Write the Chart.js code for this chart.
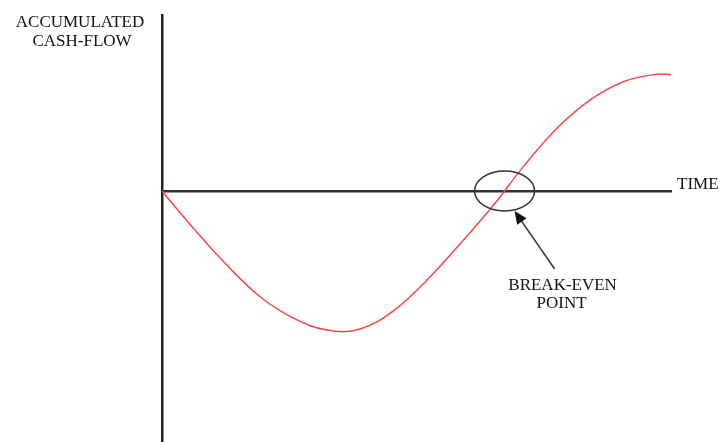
<!DOCTYPE html>
<html>
<head>
<meta charset="utf-8">
<script src="https://cdn.jsdelivr.net/npm/chart.js@4"></script>
<style>
  html, body { margin: 0; padding: 0; background: #fff; }
  #wrap { width: 721px; height: 442px; }
</style>
</head>
<body>
<div id="wrap"><canvas id="cashChart" width="721" height="442"></canvas></div>
<script>
// Accumulated cash-flow over time (arbitrary units)
const timeValues = [0, 0.648, 1.297, 1.945, 2.593, 3.242, 3.89, 4.538, 5.187, 5.835, 6.483, 7.132, 7.78, 8.428, 9.077, 9.725, 10];
const cashFlow = [0, -2.22, -4.28, -6.05, -7.24, -7.9, -7.84, -6.82, -5.11, -3.07, -0.91, 1.5, 3.62, 5.2, 6.22, 6.64, 6.6];
const breakEven = [6.77, 0];
const yAxisLabel = ["ACCUMULATED", "CASH-FLOW"];
const xAxisLabel = "TIME";
const breakEvenLabel = ["BREAK-EVEN", "POINT"];

const serif = '17px "Liberation Serif", "Times New Roman", serif';

// labels, break-even ellipse and arrow
const sketchPlugin = {
  id: "sketch",
  afterDraw(chart) {
    const ctx = chart.ctx;
    const xs = chart.scales.x;
    const ys = chart.scales.y;
    ctx.save();
    ctx.font = serif;
    ctx.fillStyle = "#111";
    ctx.textAlign = "center";
    ctx.textBaseline = "middle";
    ctx.fillText(yAxisLabel[0], 80, 23);
    ctx.fillText(yAxisLabel[1], 82, 42);

    const y0 = ys.getPixelForValue(0);
    ctx.textAlign = "left";
    ctx.fillText(xAxisLabel, xs.right + 6, y0 - 6);

    const cx = xs.getPixelForValue(breakEven[0]) - 2;
    const cy = ys.getPixelForValue(breakEven[1]);
    ctx.strokeStyle = "#333";
    ctx.lineWidth = 1.5;
    ctx.beginPath();
    ctx.ellipse(cx, cy, 30, 20, 0, 0, Math.PI * 2);
    ctx.stroke();

    // arrow
    const tipX = cx + 10, tipY = cy + 20;
    const tailX = cx + 50, tailY = cy + 78;
    const ang = Math.atan2(tipY - tailY, tipX - tailX);
    ctx.lineWidth = 1.5;
    ctx.beginPath();
    ctx.moveTo(tailX, tailY);
    ctx.lineTo(tipX - Math.cos(ang) * 8, tipY - Math.sin(ang) * 8);
    ctx.stroke();
    ctx.fillStyle = "#111";
    ctx.beginPath();
    ctx.moveTo(tipX, tipY);
    ctx.lineTo(tipX - Math.cos(ang - 0.42) * 14, tipY - Math.sin(ang - 0.42) * 14);
    ctx.lineTo(tipX - Math.cos(ang + 0.42) * 14, tipY - Math.sin(ang + 0.42) * 14);
    ctx.closePath();
    ctx.fill();

    ctx.textAlign = "center";
    ctx.fillText(breakEvenLabel[0], cx + 58, cy + 95);
    ctx.fillText(breakEvenLabel[1], cx + 57, cy + 113);
    ctx.restore();
  }
};

new Chart(document.getElementById("cashChart"), {
  type: "line",
  data: {
    datasets: [
      {
        data: timeValues.map((t, i) => ({ x: t, y: cashFlow[i] })),
        borderColor: "rgb(255, 70, 70)",
        borderWidth: 1.5,
        pointRadius: 0,
        tension: 0.4,
        fill: false
      }
    ]
  },
  options: {
    responsive: false,
    animation: false,
    layout: { padding: { left: 162, right: 50, top: 15, bottom: 0 } },
    plugins: { legend: { display: false }, tooltip: { enabled: false } },
    scales: {
      x: {
        type: "linear",
        min: 0,
        max: 10,
        position: { y: 0 },
        grid: { display: false },
        ticks: { display: false },
        border: { display: true, color: "#333", width: 2.5 }
      },
      y: {
        min: -14.26,
        max: 10,
        position: { x: 0 },
        grid: { display: false },
        ticks: { display: false },
        border: { display: true, color: "#222", width: 2.5 }
      }
    }
  },
  plugins: [sketchPlugin]
});
</script>
</body>
</html>
